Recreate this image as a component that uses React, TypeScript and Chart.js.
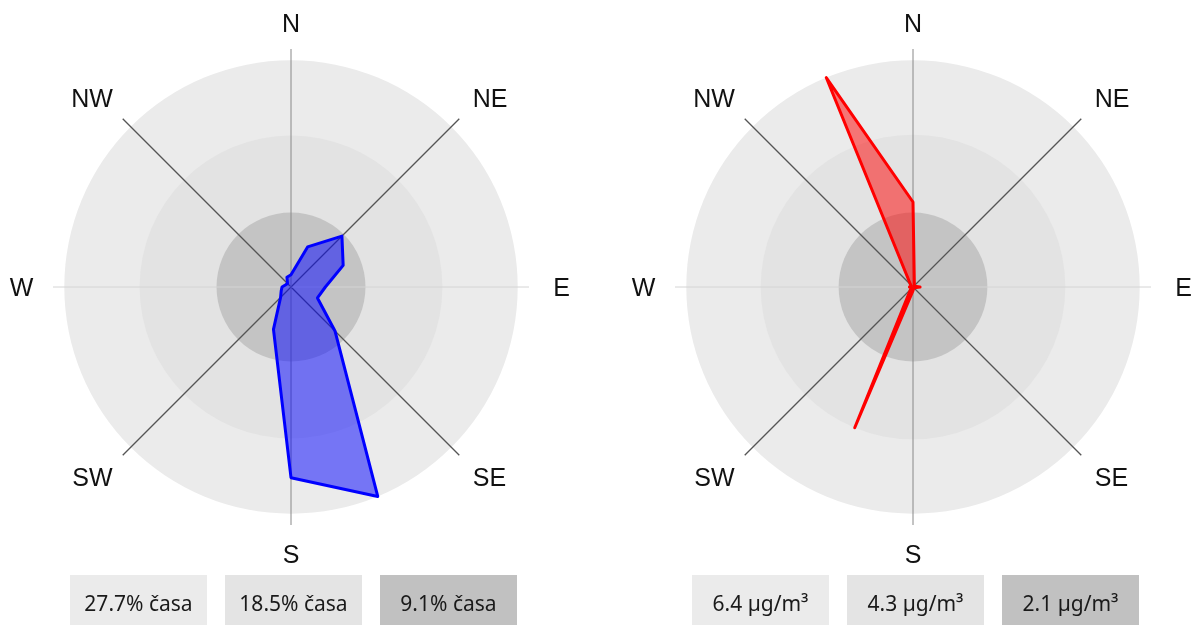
import React, { useEffect, useRef } from "react";
import { Chart, registerables } from "chart.js";

Chart.register(...registerables);

// ---- data ----
const DIRECTIONS = ["N", "NNE", "NE", "ENE", "E", "ESE", "SE", "SSE", "S", "SSW", "SW", "WSW", "W", "WNW", "NW", "NNW"];
const SHOWN_LABELS = ["N", "NE", "E", "SE", "S", "SW", "W", "NW"];

// share of time per wind direction (%)
const TIME_SHARE = [1.5, 5.3, 8.8, 6.9, 4.2, 3.5, 7.6, 27.7, 23.3, 5.6, 1.8, 1.3, 1.1, 0.7, 0.6, 1.3];
// mean concentration per wind direction (µg/m³)
const CONCENTRATION = [2.4, 0.1, 0.05, 0.05, 0.2, 0.05, 0.05, 0.05, 0.1, 4.3, 0.1, 0.05, 0.1, 0.05, 0.1, 6.4];

const TIME_RINGS = [27.7, 18.5, 9.1];
const TIME_RING_LABELS = ["27.7% časa", "18.5% časa", "9.1% časa"];
const CONC_RINGS = [6.4, 4.3, 2.1];
const CONC_RING_LABELS = ["6.4 µg/m³", "4.3 µg/m³", "2.1 µg/m³"];

const RING_COLORS = ["#ebebeb", "#e3e3e3", "#c4c4c4"];
const BOX_COLORS = ["#ebebeb", "#e4e4e4", "#c1c1c1"];

const AXIS_OVERSHOOT = 238 / 226.7; // axis lines extend slightly past the outer ring

// label offsets from the centre (horizontal / vertical, px)
function labelOffset(i: number): [number, number] {
  switch (i) {
    case 0: return [0, 264.5];   // N
    case 8: return [0, 266.5];   // S
    case 4: return [270.5, 0];   // E
    case 12: return [269.5, 0];  // W
    case 2: case 14: return [199, 189.5]; // NE, NW
    default: return [198.5, 190]; // SE, SW
  }
}

const rosePlugin = {
  id: "roseBackground",
  beforeDraw(chart: any) {
    const r = chart.scales.r;
    const ctx = chart.ctx;
    const opts = chart.options.plugins.roseBackground;
    ctx.save();
    opts.rings.forEach((v: number, i: number) => {
      ctx.beginPath();
      ctx.arc(r.xCenter, r.yCenter, r.getDistanceFromCenterForValue(v), 0, Math.PI * 2);
      ctx.fillStyle = opts.colors[i];
      ctx.fill();
    });
    ctx.restore();
  },
  afterDatasetsDraw(chart: any) {
    const r = chart.scales.r;
    const ctx = chart.ctx;
    const labels: string[] = chart.data.labels;
    ctx.save();
    ctx.font = "25px 'Liberation Sans', Arial, sans-serif";
    ctx.fillStyle = "#111";
    ctx.textAlign = "center";
    ctx.textBaseline = "alphabetic";
    labels.forEach((lab, i) => {
      if (!SHOWN_LABELS.includes(lab)) return;
      const u = r.getPointPosition(i, 100);
      const ux = Math.round((u.x - r.xCenter) / 70);
      const uy = Math.round((u.y - r.yCenter) / 70);
      const [h, v] = labelOffset(i);
      const x = r.xCenter + Math.sign(ux) * h;
      const y = r.yCenter + Math.sign(uy) * v;
      ctx.fillText(lab, x, y + 9);
    });
    ctx.restore();
  },
};

function RoseChart(props: {
  values: number[];
  rings: number[];
  ringLabels: string[];
  border: string;
  fill: string;
  center: number;
}) {
  const ref = useRef<HTMLCanvasElement>(null);
  const { values, rings, ringLabels, border, fill, center } = props;
  useEffect(() => {
    const maxRing = Math.max(...rings);
    const chart = new Chart(ref.current as HTMLCanvasElement, {
      type: "radar",
      data: {
        labels: DIRECTIONS,
        datasets: [
          {
            data: values,
            borderColor: border,
            backgroundColor: fill,
            borderWidth: 3,
            borderJoinStyle: "round",
            pointRadius: 0,
            pointHoverRadius: 0,
            fill: true,
            tension: 0,
          } as any,
        ],
      },
      options: {
        responsive: false,
        animation: false,
        events: [],
        layout: { padding: { left: 62, right: 62, top: 42, bottom: 62 } },
        plugins: {
          legend: { display: false },
          tooltip: { enabled: false },
          roseBackground: { rings, colors: RING_COLORS },
        } as any,
        scales: {
          r: {
            min: 0,
            max: maxRing * AXIS_OVERSHOOT,
            startAngle: 0,
            ticks: { display: false },
            grid: { display: false },
            pointLabels: { display: false },
            angleLines: {
              display: true,
              color: (ctx: any) => {
                const i = ctx.index;
                if (i % 2 === 1) return "rgba(0,0,0,0)";
                if (i === 0 || i === 8) return "#888888";
                if (i === 4 || i === 12) return "#d4d4d4";
                return "#555555";
              },
              lineWidth: (ctx: any) => {
                const i = ctx.index;
                if (i % 2 === 1) return 0;
                if (i % 4 === 0) return 1;
                return 1.3;
              },
            },
          },
        },
      },
      plugins: [rosePlugin as any],
    });
    return () => chart.destroy();
  }, []);

  return (
    <>
      <canvas
        ref={ref}
        width={600}
        height={580}
        style={{ position: "absolute", left: center - 300, top: 7 }}
      />
      <div
        style={{
          position: "absolute",
          left: center - 221,
          top: 575,
          display: "flex",
          gap: 18,
        }}
      >
        {ringLabels.map((t, i) => (
          <div
            key={t}
            style={{
              width: 137,
              height: 57,
              lineHeight: "57px",
              background: BOX_COLORS[i],
              textAlign: "center",
              fontFamily: "'Noto Sans', sans-serif",
              fontSize: 21,
              color: "#1a1a1a",
              whiteSpace: "nowrap",
            }}
          >
            {t}
          </div>
        ))}
      </div>
    </>
  );
}

export default function App() {
  return (
    <div
      style={{
        position: "fixed",
        left: 0,
        top: 0,
        width: 1192,
        height: 625,
        background: "#fff",
        overflow: "hidden",
      }}
    >
      <RoseChart
        values={TIME_SHARE}
        rings={TIME_RINGS}
        ringLabels={TIME_RING_LABELS}
        border="#0000ff"
        fill="rgba(0,0,255,0.5)"
        center={291}
      />
      <RoseChart
        values={CONCENTRATION}
        rings={CONC_RINGS}
        ringLabels={CONC_RING_LABELS}
        border="#ff0000"
        fill="rgba(255,0,0,0.5)"
        center={913}
      />
    </div>
  );
}
